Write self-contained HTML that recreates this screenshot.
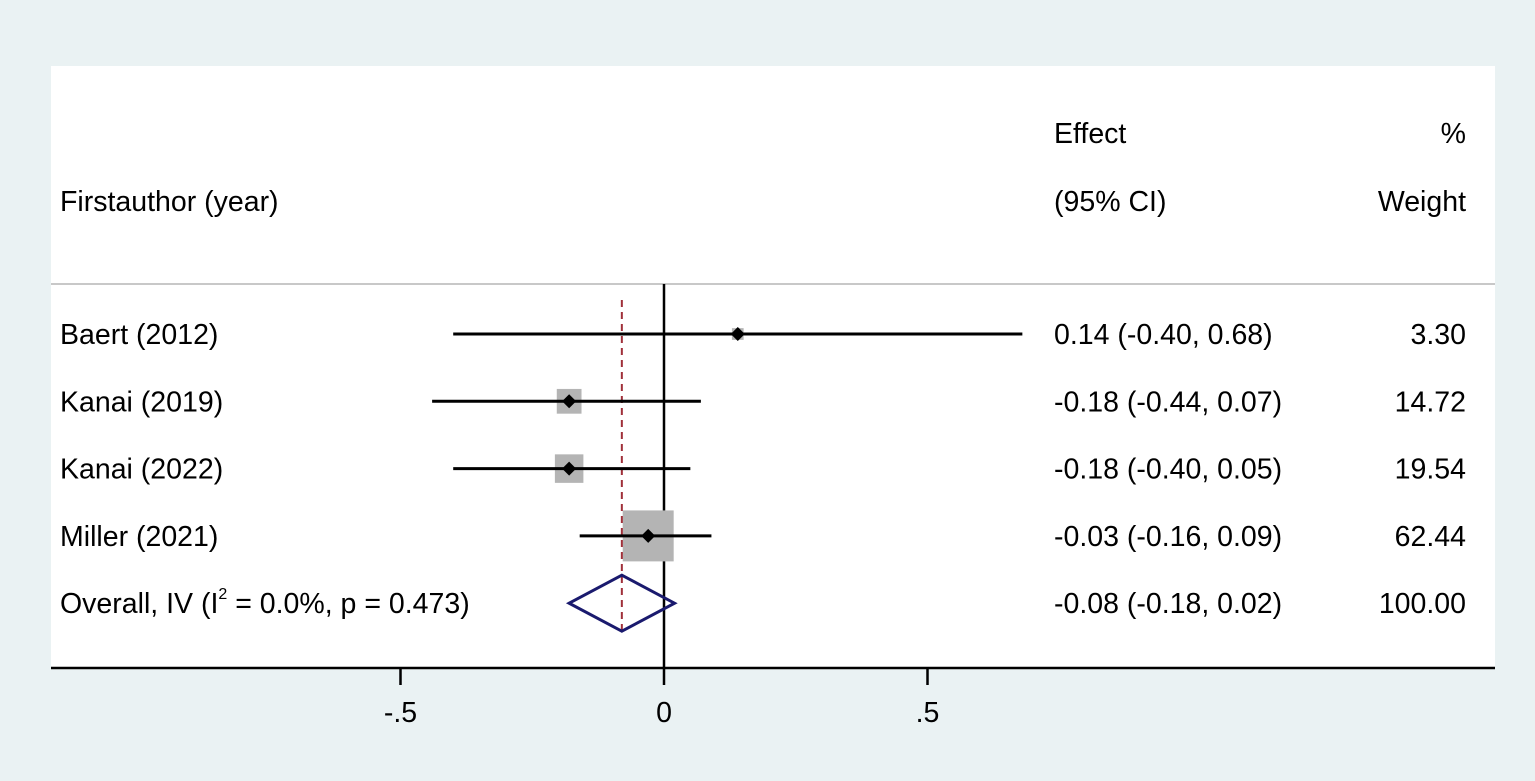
<!DOCTYPE html>
<html><head><meta charset="utf-8"><style>
html,body{margin:0;padding:0;background:#eaf2f3;}
svg{display:block;font-family:"Liberation Sans",Arial,sans-serif;}
</style></head><body>
<svg id="chart" width="1535" height="781" viewBox="0 0 1535 781">
<rect x="0" y="0" width="1535" height="781" fill="#eaf2f3"/>
<rect x="51" y="66" width="1444" height="602" fill="#ffffff"/>
<g font-size="28.5" fill="#000">
<text x="1054" y="143">Effect</text>
<text x="1466" y="143" text-anchor="end">%</text>
<text x="60" y="211">Firstauthor (year)</text>
<text x="1054" y="211">(95% CI)</text>
<text x="1466" y="211" text-anchor="end">Weight</text>
</g>
<line x1="51" y1="284" x2="1495" y2="284" stroke="#c8c8c8" stroke-width="2"/>
<g id="marks"></g>
<line x1="51" y1="668" x2="1495" y2="668" stroke="#000" stroke-width="2.5"/>
<g id="axis"></g>
</svg>
<script>
const studies=["Baert (2012)","Kanai (2019)","Kanai (2022)","Miller (2021)"];
const effects=[0.14,-0.18,-0.18,-0.03];
const lower=[-0.40,-0.44,-0.40,-0.16];
const upper=[0.68,0.07,0.05,0.09];
const weights=[3.30,14.72,19.54,62.44];
const ciText=["0.14 (-0.40, 0.68)","-0.18 (-0.44, 0.07)","-0.18 (-0.40, 0.05)","-0.03 (-0.16, 0.09)"];
const weightText=["3.30","14.72","19.54","62.44"];
const overall=[-0.08,-0.18,0.02];
const overallCI="-0.08 (-0.18, 0.02)";
const overallWeight="100.00";
const ticks=[-0.5,0,0.5];
const tickLabels=["-.5","0",".5"];
const NS="http://www.w3.org/2000/svg";
const FS=28.5;
const xs=v=>664+v*527;
const rowY=i=>334+i*67.3;
function mk(tag,attrs,parent,txt){const e=document.createElementNS(NS,tag);for(const k in attrs)e.setAttribute(k,attrs[k]);if(txt!==undefined)e.textContent=txt;parent.appendChild(e);return e;}
const g=document.getElementById('marks');
const ax=document.getElementById('axis');
let z=mk('line',{x1:xs(0),y1:284,x2:xs(0),y2:668,stroke:'#000','stroke-width':2.5},g);


studies.forEach((s,i)=>{
  const y=rowY(i);
  const side=6.45*Math.sqrt(weights[i]);
  let b=mk('rect',{x:xs(effects[i])-side/2,y:y-side/2,width:side,height:side,fill:'#b4b4b4'},g);
  
  
});
let ol=mk('line',{x1:xs(overall[0]),y1:300,x2:xs(overall[0]),y2:632,stroke:'#a0303a','stroke-width':2,'stroke-dasharray':'7,5'},g);


studies.forEach((s,i)=>{
  const y=rowY(i);
  let l=mk('line',{x1:xs(lower[i]),y1:y,x2:xs(upper[i]),y2:y,stroke:'#000','stroke-width':3},g);
  
  
  const cx=xs(effects[i]);
  let d=mk('polygon',{points:`${cx-7},${y} ${cx},${y-7} ${cx+7},${y} ${cx},${y+7}`,fill:'#000'},g);
  
  
  let t=mk('text',{x:60,y:y+10,'font-size':FS},g,s);
  
  
  let c=mk('text',{x:1054,y:y+10,'font-size':FS},g,ciText[i]);
  
  
  let w=mk('text',{x:1466,y:y+10,'font-size':FS,'text-anchor':'end'},g,weightText[i]);
  
  
});
const oy=rowY(4);
let dm=mk('polygon',{points:`${xs(overall[1])},${oy} ${xs(overall[0])},${oy-28} ${xs(overall[2])},${oy} ${xs(overall[0])},${oy+28}`,fill:'none',stroke:'#1a1a6e','stroke-width':3},g);


let ot=mk('text',{x:60,y:oy+10,'font-size':FS},g);


ot.innerHTML='Overall, IV (I<tspan dy="-14" font-size="16">2</tspan><tspan dy="14"> = 0.0%, p = 0.473)</tspan>';
let oc=mk('text',{x:1054,y:oy+10,'font-size':FS},g,overallCI);


let ow=mk('text',{x:1466,y:oy+10,'font-size':FS,'text-anchor':'end'},g,overallWeight);


ticks.forEach((t,i)=>{
  let tk=mk('line',{x1:xs(t),y1:668,x2:xs(t),y2:685,stroke:'#000','stroke-width':2.5},ax);
  
  
  let tl=mk('text',{x:xs(t),y:722,'font-size':FS,'text-anchor':'middle'},ax,tickLabels[i]);
  
  
});
</script>
</body></html>
